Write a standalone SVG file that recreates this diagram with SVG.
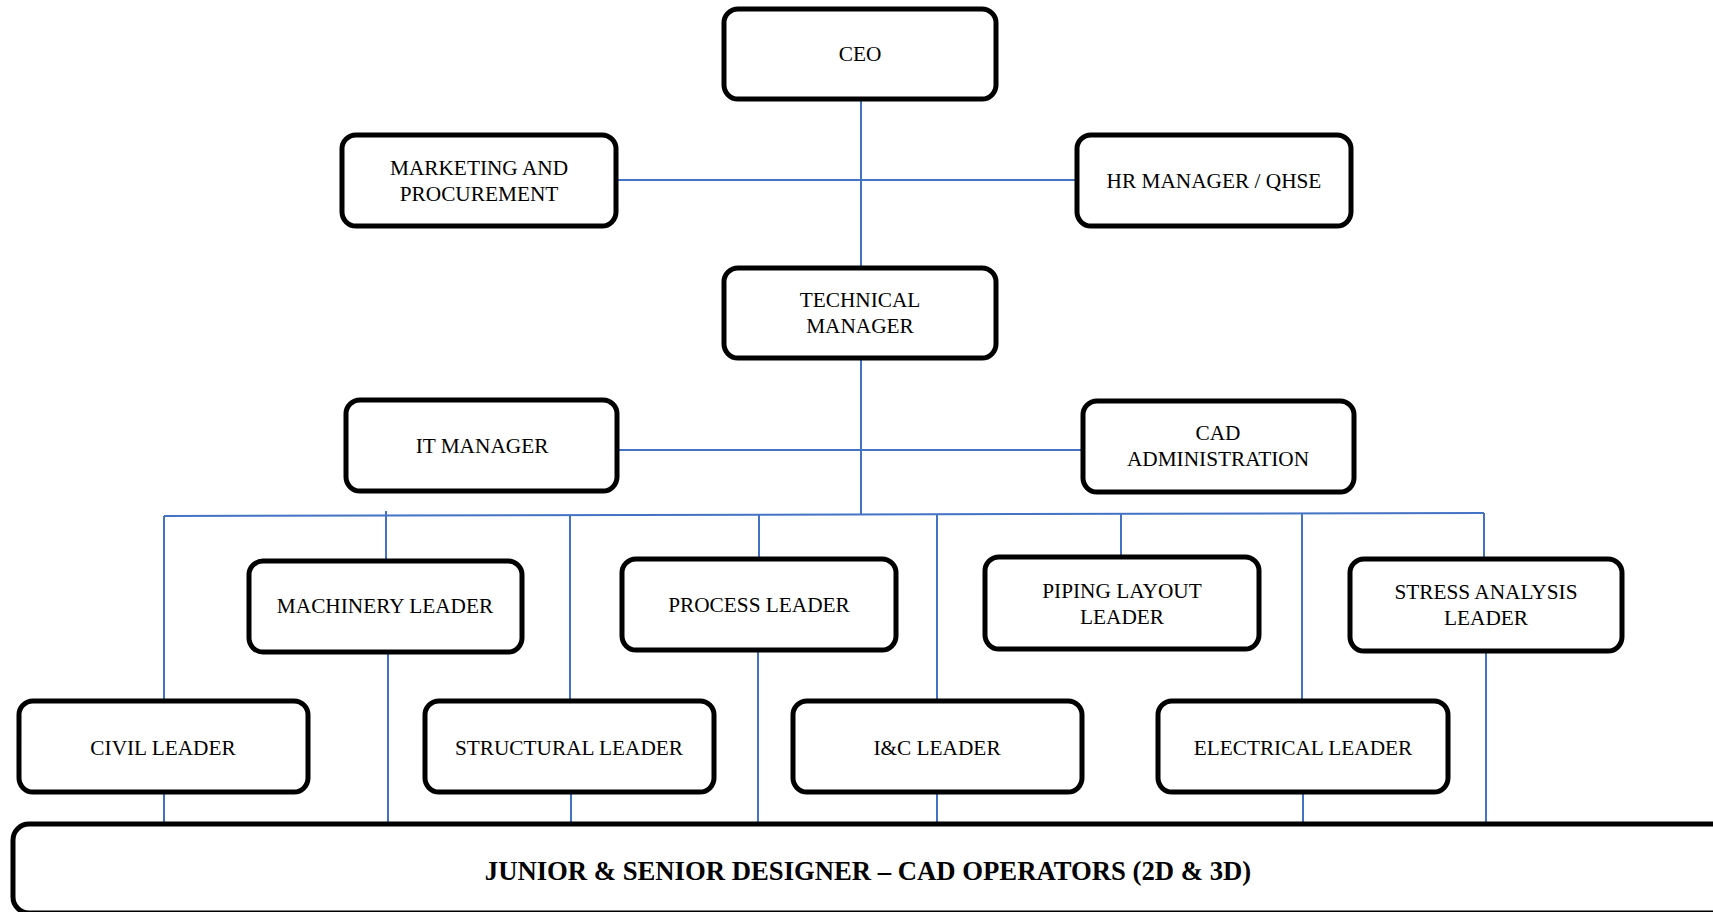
<svg xmlns="http://www.w3.org/2000/svg" width="1713" height="912" viewBox="0 0 1713 912">
<style>
.box{fill:#fff;stroke:#000;stroke-width:5}
.t{font-family:"Liberation Serif","Times New Roman",serif;font-size:21.3px;fill:#000;text-anchor:middle;dominant-baseline:central}
.b{font-family:"Liberation Serif","Times New Roman",serif;font-size:26.7px;font-weight:bold;fill:#000;text-anchor:middle;dominant-baseline:central}
.c{stroke:#4472C4;stroke-width:2;fill:none}
</style>
<rect width="1713" height="912" fill="#fff"/>
<g id="connectors">
<line class="c" x1="861" y1="99" x2="861" y2="268"/>
<line class="c" x1="616" y1="180" x2="1077" y2="180"/>
<line class="c" x1="861" y1="358" x2="861" y2="515"/>
<line class="c" x1="617" y1="450" x2="1083" y2="450"/>
<line class="c" x1="164" y1="516" x2="1484" y2="513"/>
<line class="c" x1="164" y1="516" x2="164" y2="701"/>
<line class="c" x1="386" y1="511" x2="386" y2="560"/>
<line class="c" x1="570" y1="515" x2="570" y2="701"/>
<line class="c" x1="759" y1="515" x2="759" y2="559"/>
<line class="c" x1="937" y1="515" x2="937" y2="701"/>
<line class="c" x1="1121" y1="514" x2="1121" y2="557"/>
<line class="c" x1="1302" y1="514" x2="1302" y2="701"/>
<line class="c" x1="1484" y1="513" x2="1484" y2="559"/>
<line class="c" x1="164" y1="792" x2="164" y2="824"/>
<line class="c" x1="388" y1="652" x2="388" y2="824"/>
<line class="c" x1="571" y1="792" x2="571" y2="824"/>
<line class="c" x1="758" y1="650" x2="758" y2="824"/>
<line class="c" x1="937" y1="792" x2="937" y2="824"/>
<line class="c" x1="1303" y1="792" x2="1303" y2="824"/>
<line class="c" x1="1486" y1="651" x2="1486" y2="824"/>
</g>
<g id="ceo"><rect class="box" x="724" y="9" width="272" height="90" rx="14"/><text class="t" x="860" y="54">CEO</text></g>
<g id="marketing"><rect class="box" x="342" y="135" width="274" height="91" rx="14"/><text class="t" x="479" y="168">MARKETING AND</text><text class="t" x="479" y="194">PROCUREMENT</text></g>
<g id="hr"><rect class="box" x="1077" y="135" width="274" height="91" rx="14"/><text class="t" x="1214" y="181">HR MANAGER / QHSE</text></g>
<g id="technical"><rect class="box" x="724" y="268" width="272" height="90" rx="14"/><text class="t" x="860" y="300">TECHNICAL</text><text class="t" x="860" y="326">MANAGER</text></g>
<g id="it"><rect class="box" x="346" y="400" width="271" height="91" rx="14"/><text class="t" x="482" y="446">IT MANAGER</text></g>
<g id="cad"><rect class="box" x="1083" y="401" width="271" height="91" rx="14"/><text class="t" x="1218" y="433">CAD</text><text class="t" x="1218" y="459">ADMINISTRATION</text></g>
<g id="machinery"><rect class="box" x="249" y="561" width="273" height="91" rx="14"/><text class="t" x="385" y="606">MACHINERY LEADER</text></g>
<g id="process"><rect class="box" x="622" y="559" width="274" height="91" rx="14"/><text class="t" x="759" y="605">PROCESS LEADER</text></g>
<g id="piping"><rect class="box" x="985" y="557" width="274" height="92" rx="14"/><text class="t" x="1122" y="591">PIPING LAYOUT</text><text class="t" x="1122" y="617">LEADER</text></g>
<g id="stress"><rect class="box" x="1350" y="559" width="272" height="92" rx="14"/><text class="t" x="1486" y="592">STRESS ANALYSIS</text><text class="t" x="1486" y="618">LEADER</text></g>
<g id="civil"><rect class="box" x="19" y="701" width="289" height="91" rx="14"/><text class="t" x="163" y="748">CIVIL LEADER</text></g>
<g id="structural"><rect class="box" x="425" y="701" width="289" height="91" rx="14"/><text class="t" x="569" y="748">STRUCTURAL LEADER</text></g>
<g id="ic"><rect class="box" x="793" y="701" width="289" height="91" rx="14"/><text class="t" x="937" y="748">I&amp;C LEADER</text></g>
<g id="electrical"><rect class="box" x="1158" y="701" width="290" height="91" rx="14"/><text class="t" x="1303" y="748">ELECTRICAL LEADER</text></g>
<g id="designers"><rect class="box" x="13" y="824" width="1740" height="89" rx="16"/><text class="b" x="868" y="871">JUNIOR &amp; SENIOR DESIGNER – CAD OPERATORS (2D &amp; 3D)</text></g>
</svg>
